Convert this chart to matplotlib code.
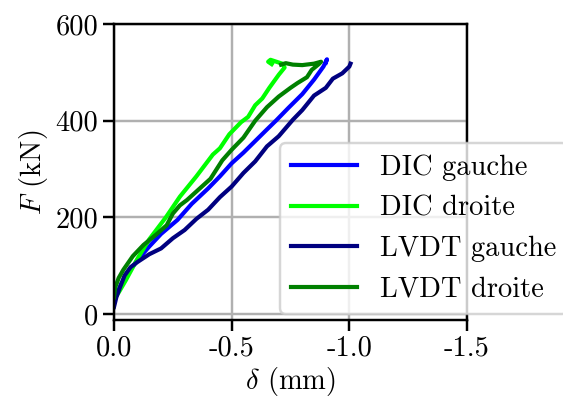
import matplotlib
matplotlib.use('Agg')
import matplotlib.pyplot as plt

# displacement (mm) / force (kN)
dic_g_x = [0.0, -0.01, -0.03, -0.05, -0.07, -0.10, -0.15, -0.20, -0.27, -0.33, -0.40, -0.45,
           -0.50, -0.55, -0.60, -0.65, -0.69, -0.74, -0.80, -0.85, -0.89, -0.905, -0.90]
dic_g_y = [25, 40, 62, 78, 92, 112, 140, 166, 195, 228, 260, 285,
           312, 334, 358, 382, 401, 426, 455, 485, 512, 527, 520]

dic_d_x = [0.0, -0.02, -0.05, -0.10, -0.15, -0.22, -0.28, -0.35, -0.42, -0.45, -0.49, -0.54,
           -0.57, -0.60, -0.63, -0.66, -0.70, -0.725, -0.715, -0.69, -0.665, -0.655, -0.67]
dic_d_y = [30, 45, 70, 115, 155, 200, 243, 285, 330, 343, 372, 397,
           408, 432, 446, 468, 495, 510, 518, 522, 526, 522, 517]

lvdt_g_x = [0.0, -0.01, -0.025, -0.045, -0.07, -0.10, -0.15, -0.20, -0.25, -0.30, -0.35, -0.40,
            -0.45, -0.50, -0.55, -0.60, -0.65, -0.70, -0.76, -0.80, -0.85, -0.90, -0.93, -0.97,
            -1.0, -1.005]
lvdt_g_y = [15, 35, 55, 80, 97, 108, 124, 136, 157, 174, 197, 216,
            242, 264, 292, 316, 347, 368, 402, 422, 452, 468, 487, 498,
            512, 518]

lvdt_d_x = [0.0, -0.005, -0.02, -0.04, -0.08, -0.125, -0.18, -0.224, -0.25, -0.28, -0.31, -0.36,
            -0.41, -0.46, -0.50, -0.55, -0.60, -0.65, -0.70, -0.75, -0.78, -0.82, -0.84, -0.87,
            -0.88, -0.85, -0.80, -0.76, -0.73, -0.71]
lvdt_d_y = [35, 55, 75, 92, 120, 143, 165, 184, 208, 225, 236, 258,
            280, 318, 340, 365, 400, 428, 450, 468, 478, 490, 505, 517,
            522, 518, 515, 516, 519, 516]

series = [
    (dic_g_x, dic_g_y, 'DIC gauche', 'blue'),
    (dic_d_x, dic_d_y, 'DIC droite', 'lime'),
    (lvdt_g_x, lvdt_g_y, 'LVDT gauche', 'navy'),
    (lvdt_d_x, lvdt_d_y, 'LVDT droite', 'green'),
]

s = 2.2
plt.rcParams['font.family'] = 'cmr10'
plt.rcParams['mathtext.fontset'] = 'cm'
plt.rcParams['axes.unicode_minus'] = False
plt.rcParams['font.size'] = 20.5

fig = plt.figure(figsize=(5.63, 3.99), dpi=100)
ax = fig.add_axes([114 / 563, 1 - 320 / 399, 353 / 563, 296 / 399])

for x, y, label, color in series:
    ax.plot(x, y, color=color, lw=3.0, label=label, solid_joinstyle='round')

ax.set_xlim(0, -1.5)
ax.set_ylim(-12, 600)
ax.set_xticks([0, -0.5, -1.0, -1.5])
ax.set_xticklabels(['0.0', '-0.5', '-1.0', '-1.5'])
ax.set_yticks([0, 200, 400, 600])
ax.set_xlabel(r'$\delta$ (mm)', labelpad=2)
ax.set_ylabel(r'$F$ (kN)')
ax.grid(True, color='#b0b0b0', lw=0.8 * s)
for sp in ax.spines.values():
    sp.set_linewidth(0.8 * s)
ax.tick_params(length=3.5 * s, width=0.8 * s)

leg = ax.legend(loc='lower left', bbox_to_anchor=(0.47, 0.02), framealpha=0.8,
                handlelength=2.3, borderaxespad=0)
leg.get_frame().set_linewidth(0.8 * s)

fig.savefig('out.png', dpi=100)
